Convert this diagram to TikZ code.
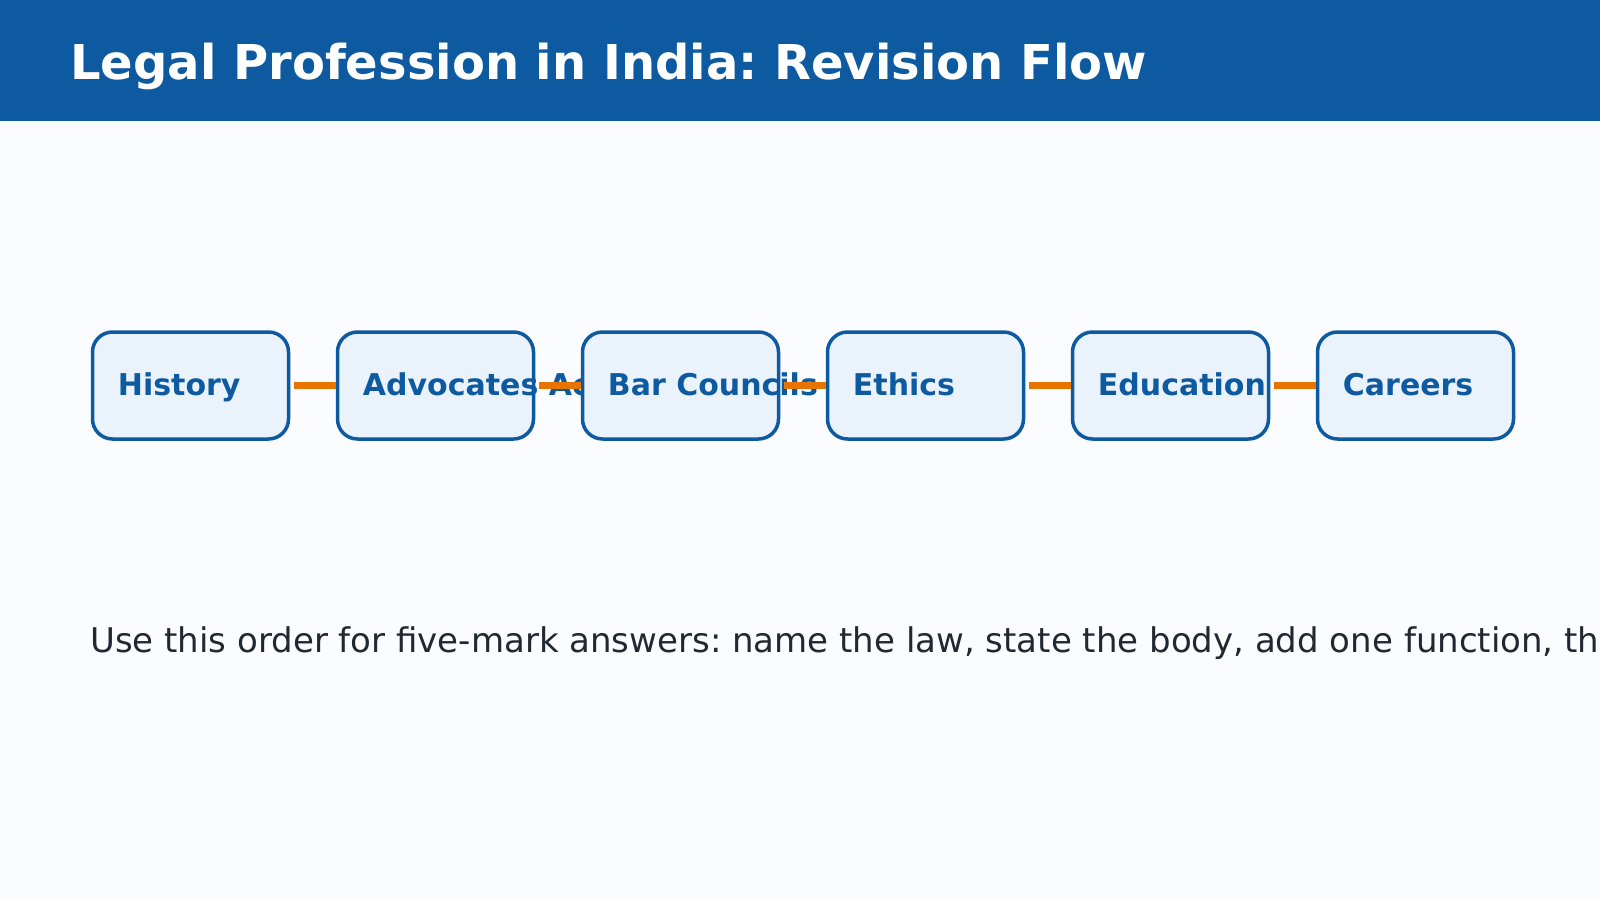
\documentclass[tikz,border=0pt]{standalone}
\usepackage{fontspec}
\setmainfont{DejaVu Sans}
\usepackage{tikz}
\usetikzlibrary{positioning}
\definecolor{headblue}{RGB}{14, 90, 160}
\definecolor{pagebg}{RGB}{250, 252, 255}
\definecolor{boxfill}{RGB}{234, 243, 252}
\definecolor{flow}{RGB}{232, 116, 0}
\definecolor{notegray}{RGB}{34, 40, 49}
\frenchspacing

\begin{document}
\begin{tikzpicture}[x=1pt, y=-1pt,
        stage/.style={draw=headblue, fill=boxfill, line width=3.5pt, rounded corners=20pt,
                      minimum width=196pt, minimum height=107pt, inner sep=0pt},
        stagetext/.style={anchor=base west, inner sep=0pt, text=headblue,
                          font=\fontsize{30}{36}\selectfont\bfseries},
        link/.style={draw=flow, line width=7pt}]
            \useasboundingbox (0,0) rectangle (1600,900);
            \fill[pagebg]   (0,0) rectangle (1600,900);
            \fill[headblue] (0,0) rectangle (1600,121);
            \node[anchor=base west, inner sep=0pt, text=white, font=\fontsize{48}{56}\selectfont\bfseries]
                 (title) at (70,79.5) {Legal Profession in India: Revision Flow};
            % stages, each one drawn after the label before it
            \node[stage] (hist) at (190.5,385.5) {};
            \node[stagetext] (histlbl) at ([xshift=27pt, yshift=-10pt]hist.west) {History};
            \node[stage, right=45.5pt of hist] (adv) {};
            \draw[link] ([xshift=4pt]hist.east) -- (adv.west);
            \node[stagetext] (advlbl) at ([xshift=27pt, yshift=-10pt]adv.west) {Advocates Act};
            \node[stage, right=45.5pt of adv] (bar) {};
            \draw[link] ([xshift=4pt]adv.east) -- (bar.west);
            \node[stagetext] (barlbl) at ([xshift=27pt, yshift=-10pt]bar.west) {Bar Councils};
            \node[stage, right=45.5pt of bar] (eth) {};
            \draw[link] ([xshift=4pt]bar.east) -- (eth.west);
            \node[stagetext] (ethlbl) at ([xshift=27pt, yshift=-10pt]eth.west) {Ethics};
            \node[stage, right=45.5pt of eth] (edu) {};
            \draw[link] ([xshift=4pt]eth.east) -- (edu.west);
            \node[stagetext] (edulbl) at ([xshift=27pt, yshift=-10pt]edu.west) {Education};
            \node[stage, right=45.5pt of edu] (car) {};
            \draw[link] ([xshift=4pt]edu.east) -- (car.west);
            \node[stagetext] (carlbl) at ([xshift=27pt, yshift=-10pt]car.west) {Careers};
            % revision note, runs past the right edge
            \node[anchor=base west, inner sep=0pt, text=notegray, font=\fontsize{34}{40}\selectfont]
                 (note) at (90,652) {Use this order for five-mark answers: name the law, state the body, add one function, th};
        \end{tikzpicture}
\end{document}
